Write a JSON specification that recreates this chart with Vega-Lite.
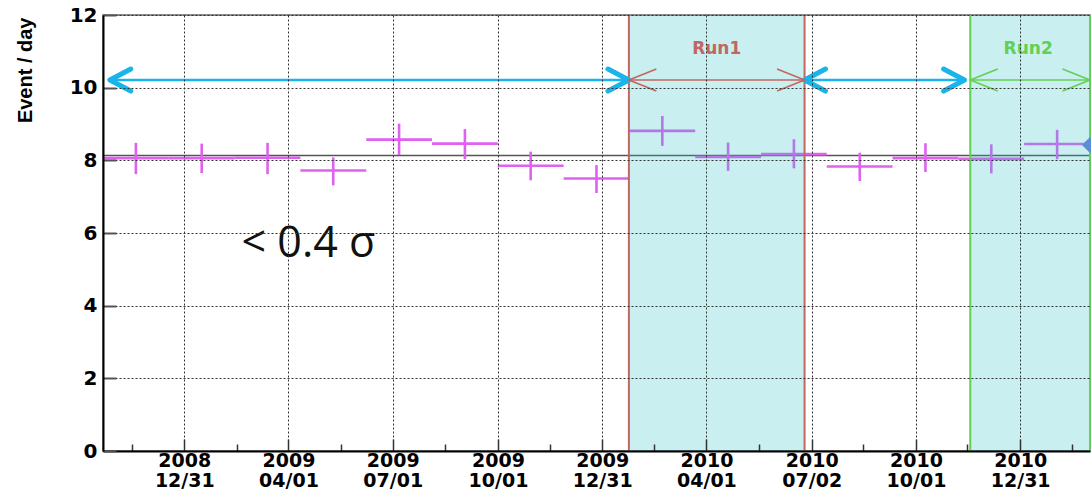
{
  "$schema": "https://vega.github.io/schema/vega-lite/v6.json",
  "width": 987,
  "height": 436,
  "autosize": {"type": "none"},
  "padding": {"left": 103, "top": 15, "right": 1, "bottom": 42},
  "background": "white",
  "config": {"view": {"stroke": "#666", "strokeWidth": 1.5}},
  "datasets": {
    "bins": [
      {"start": "2008-10-21T00:00", "end": "2008-12-17T12:00", "mid": "2008-11-18T17:00", "rate": 8.06, "lo": 7.62, "hi": 8.48},
      {"start": "2008-12-17T12:00", "end": "2009-02-12T22:00", "mid": "2009-01-15T05:00", "rate": 8.06, "lo": 7.65, "hi": 8.46},
      {"start": "2009-02-12T22:00", "end": "2009-04-11T10:00", "mid": "2009-03-13T17:00", "rate": 8.07, "lo": 7.62, "hi": 8.48},
      {"start": "2009-04-11T10:00", "end": "2009-06-07T22:00", "mid": "2009-05-10T02:00", "rate": 7.72, "lo": 7.31, "hi": 8.08},
      {"start": "2009-06-07T22:00", "end": "2009-08-04T07:00", "mid": "2009-07-06T14:00", "rate": 8.57, "lo": 8.15, "hi": 9.01},
      {"start": "2009-08-04T07:00", "end": "2009-09-30T19:00", "mid": "2009-09-02T02:00", "rate": 8.46, "lo": 8.03, "hi": 8.86},
      {"start": "2009-09-30T19:00", "end": "2009-11-27T07:00", "mid": "2009-10-29T12:00", "rate": 7.85, "lo": 7.45, "hi": 8.24},
      {"start": "2009-11-27T07:00", "end": "2010-01-23T17:00", "mid": "2009-12-26T00:00", "rate": 7.50, "lo": 7.10, "hi": 7.87},
      {"start": "2010-01-23T17:00", "end": "2010-03-22T05:00", "mid": "2010-02-21T12:00", "rate": 8.81, "lo": 8.40, "hi": 9.22},
      {"start": "2010-03-22T05:00", "end": "2010-05-18T17:00", "mid": "2010-04-19T22:00", "rate": 8.09, "lo": 7.71, "hi": 8.49},
      {"start": "2010-05-18T17:00", "end": "2010-07-15T02:00", "mid": "2010-06-16T10:00", "rate": 8.17, "lo": 7.78, "hi": 8.58},
      {"start": "2010-07-15T02:00", "end": "2010-09-10T14:00", "mid": "2010-08-12T22:00", "rate": 7.83, "lo": 7.43, "hi": 8.21},
      {"start": "2010-09-10T14:00", "end": "2010-11-07T02:00", "mid": "2010-10-09T07:00", "rate": 8.06, "lo": 7.68, "hi": 8.47},
      {"start": "2010-11-07T02:00", "end": "2011-01-03T12:00", "mid": "2010-12-05T19:00", "rate": 8.04, "lo": 7.64, "hi": 8.44},
      {"start": "2011-01-03T12:00", "end": "2011-03-02T00:00", "mid": "2011-02-01T07:00", "rate": 8.45, "lo": 8.03, "hi": 8.84}
    ],
    "ref": [{"v": 8.13}],
    "runs": [
      {"kind": "Run1", "start": "2010-01-23T07:00", "end": "2010-06-25T17:00"},
      {"kind": "Run2", "start": "2010-11-17T10:00", "end": "2011-03-02T00:00"}
    ],
    "arrows": [
      {"kind": "Off", "from": "2008-10-27T00:00", "to": "2010-01-23T07:00", "level": 10.21},
      {"kind": "Run1", "from": "2010-01-23T07:00", "to": "2010-06-25T17:00", "level": 10.21},
      {"kind": "Off", "from": "2010-06-25T17:00", "to": "2010-11-12T10:00", "level": 10.21},
      {"kind": "Run2", "from": "2010-11-17T10:00", "to": "2011-03-02T00:00", "level": 10.21}
    ],
    "labels": [
      {"kind": "Run1", "t": "2010-04-10T00:00", "v": 11.07, "text": "Run1"},
      {"kind": "Run2", "t": "2011-01-07T00:00", "v": 11.07, "text": "Run2"}
    ],
    "note": [{"t": "2009-02-19T00:00", "v": 5.70, "text": "< 0.4 σ"}],
    "marker": [{"t": "2011-03-02T00:00", "v": 8.42}]
  },
  "layer": [
    {
      "data": {"name": "ref"},
      "mark": {"type": "rule", "color": "#555", "strokeWidth": 1.5},
      "encoding": {
        "y": {
          "field": "v", "type": "quantitative",
          "scale": {"domain": [0, 12], "nice": false, "zero": false},
          "axis": {
            "title": "Event / day",
            "titleFont": "Liberation Sans", "titleFontWeight": "bold", "titleFontSize": 20,
            "titleColor": "#000", "titleAngle": 270, "titleAlign": "right", "titleBaseline": "alphabetic",
            "titleX": -72, "titleY": 2,
            "values": [0, 0.5, 1, 1.5, 2, 2.5, 3, 3.5, 4, 4.5, 5, 5.5, 6, 6.5, 7, 7.5, 8, 8.5, 9, 9.5, 10, 10.5, 11, 11.5, 12],
            "labelExpr": "datum.value % 2 === 0 ? datum.label : ''",
            "labelFont": "DejaVu Sans", "labelFontWeight": "bold", "labelFontSize": 20, "labelColor": "#000",
            "labelPadding": 19, "labelOverlap": false, "labelFlush": false,
            "ticks": true, "tickSize": -13, "tickColor": "#555", "tickWidth": 2,
            "domainColor": "#000", "domainWidth": 2,
            "grid": true, "gridColor": "#333", "gridDash": [2, 2], "gridWidth": 1,
            "gridOpacity": {"condition": {"test": "datum.value % 2 !== 0", "value": 0}, "value": 1},
            "zindex": 1
          }
        }
      }
    },
    {
      "data": {"name": "bins"},
      "mark": {"type": "rule", "color": "#e060f0", "strokeWidth": 2.6},
      "encoding": {
        "x": {
          "field": "start", "type": "temporal",
          "scale": {"domain": [{"year": 2008, "month": 10, "date": 21}, {"year": 2011, "month": 3, "date": 2}], "nice": false},
          "axis": {
            "title": null,
            "values": [
              {"year": 2008, "month": 11, "date": 15},
              {"year": 2008, "month": 12, "date": 31},
              {"year": 2009, "month": 2, "date": 15},
              {"year": 2009, "month": 4, "date": 1},
              {"year": 2009, "month": 5, "date": 17},
              {"year": 2009, "month": 7, "date": 1},
              {"year": 2009, "month": 8, "date": 16},
              {"year": 2009, "month": 10, "date": 1},
              {"year": 2009, "month": 11, "date": 15},
              {"year": 2009, "month": 12, "date": 31},
              {"year": 2010, "month": 2, "date": 14},
              {"year": 2010, "month": 4, "date": 1},
              {"year": 2010, "month": 5, "date": 17},
              {"year": 2010, "month": 7, "date": 2},
              {"year": 2010, "month": 8, "date": 16},
              {"year": 2010, "month": 10, "date": 1},
              {"year": 2010, "month": 11, "date": 15},
              {"year": 2010, "month": 12, "date": 31},
              {"year": 2011, "month": 2, "date": 14}
            ],
            "labelExpr": "(date(datum.value) >= 10 && date(datum.value) <= 20) ? '' : [timeFormat(datum.value, '%Y'), timeFormat(datum.value, '%m/%d')]",
            "labelFont": "DejaVu Sans", "labelFontWeight": "bold", "labelFontSize": 19, "labelColor": "#000",
            "labelLineHeight": 20, "labelBaseline": "top", "labelPadding": 12,
            "labelOverlap": false, "labelFlush": false, "labelAngle": 0,
            "tickSize": {"condition": {"test": "date(datum.value) >= 10 && date(datum.value) <= 20", "value": -7}, "value": -12},
            "tickColor": "#333", "tickWidth": 1.5,
            "domainColor": "#000", "domainWidth": 2,
            "grid": true, "gridColor": "#333", "gridDash": [2, 2], "gridWidth": 1,
            "gridOpacity": {"condition": {"test": "date(datum.value) >= 10 && date(datum.value) <= 20", "value": 0}, "value": 1},
            "zindex": 1
          }
        },
        "x2": {"field": "end"},
        "y": {"field": "rate", "type": "quantitative"}
      }
    },
    {
      "data": {"name": "bins"},
      "mark": {"type": "rule", "color": "#e060f0", "strokeWidth": 2.6},
      "encoding": {
        "x": {"field": "mid", "type": "temporal"},
        "y": {"field": "lo", "type": "quantitative"},
        "y2": {"field": "hi"}
      }
    },
    {
      "data": {"name": "runs"},
      "mark": {"type": "rect", "color": "#28bec8", "opacity": 0.25},
      "encoding": {
        "x": {"field": "start", "type": "temporal"},
        "x2": {"field": "end"}
      }
    },
    {
      "data": {"name": "runs"},
      "mark": {"type": "rule", "strokeWidth": 2},
      "encoding": {
        "x": {"field": "start", "type": "temporal"},
        "color": {"field": "kind", "type": "nominal", "scale": {"domain": ["Run1", "Run2"], "range": ["#c2675f", "#62d052"]}, "legend": null}
      }
    },
    {
      "data": {"name": "runs"},
      "mark": {"type": "rule", "strokeWidth": 2},
      "encoding": {
        "x": {"field": "end", "type": "temporal"},
        "color": {"field": "kind", "type": "nominal", "scale": {"domain": ["Run1", "Run2"], "range": ["#c2675f", "#62d052"]}, "legend": null}
      }
    },
    {
      "data": {"name": "arrows"},
      "transform": [{"filter": "datum.kind === 'Off'"}],
      "mark": {"type": "rule", "color": "#19b4ea", "strokeWidth": 2.6},
      "encoding": {
        "x": {"field": "from", "type": "temporal"},
        "x2": {"field": "to"},
        "y": {"field": "level", "type": "quantitative"}
      }
    },
    {
      "data": {"name": "arrows"},
      "transform": [{"filter": "datum.kind === 'Off'"}],
      "mark": {"type": "point", "shape": "M1.9,-1L0,0L1.9,1", "filled": false, "color": "#19b4ea", "strokeWidth": 5, "strokeCap": "round", "strokeJoin": "round", "size": 484, "opacity": 1},
      "encoding": {
        "x": {"field": "from", "type": "temporal"},
        "y": {"field": "level", "type": "quantitative"}
      }
    },
    {
      "data": {"name": "arrows"},
      "transform": [{"filter": "datum.kind === 'Off'"}],
      "mark": {"type": "point", "shape": "M-1.9,-1L0,0L-1.9,1", "filled": false, "color": "#19b4ea", "strokeWidth": 5, "strokeCap": "round", "strokeJoin": "round", "size": 484, "opacity": 1},
      "encoding": {
        "x": {"field": "to", "type": "temporal"},
        "y": {"field": "level", "type": "quantitative"}
      }
    },
    {
      "data": {"name": "arrows"},
      "transform": [{"filter": "datum.kind !== 'Off'"}],
      "mark": {"type": "rule", "strokeWidth": 1.6},
      "encoding": {
        "x": {"field": "from", "type": "temporal"},
        "x2": {"field": "to"},
        "y": {"field": "level", "type": "quantitative"},
        "color": {"field": "kind", "type": "nominal", "scale": {"domain": ["Run1", "Run2"], "range": ["#c2675f", "#62d052"]}, "legend": null}
      }
    },
    {
      "data": {"name": "arrows"},
      "transform": [{"filter": "datum.kind !== 'Off'"}],
      "mark": {"type": "point", "shape": "M2.5,-1L0,0L2.5,1", "filled": false, "strokeWidth": 1.6, "size": 484, "opacity": 1},
      "encoding": {
        "x": {"field": "from", "type": "temporal"},
        "y": {"field": "level", "type": "quantitative"},
        "color": {"field": "kind", "type": "nominal", "scale": {"domain": ["Run1", "Run2"], "range": ["#c2675f", "#62d052"]}, "legend": null}
      }
    },
    {
      "data": {"name": "arrows"},
      "transform": [{"filter": "datum.kind !== 'Off'"}],
      "mark": {"type": "point", "shape": "M-2.5,-1L0,0L-2.5,1", "filled": false, "strokeWidth": 1.6, "size": 484, "opacity": 1},
      "encoding": {
        "x": {"field": "to", "type": "temporal"},
        "y": {"field": "level", "type": "quantitative"},
        "color": {"field": "kind", "type": "nominal", "scale": {"domain": ["Run1", "Run2"], "range": ["#c2675f", "#62d052"]}, "legend": null}
      }
    },
    {
      "data": {"name": "labels"},
      "mark": {"type": "text", "font": "DejaVu Sans", "fontWeight": "bold", "fontSize": 17, "align": "center", "baseline": "middle"},
      "encoding": {
        "x": {"field": "t", "type": "temporal"},
        "y": {"field": "v", "type": "quantitative"},
        "text": {"field": "text"},
        "color": {"field": "kind", "type": "nominal", "scale": {"domain": ["Run1", "Run2"], "range": ["#b65a53", "#5fd24a"]}, "legend": null}
      }
    },
    {
      "data": {"name": "note"},
      "mark": {"type": "text", "font": "Open Sans", "fontSize": 43, "align": "left", "baseline": "middle", "color": "#111"},
      "encoding": {
        "x": {"field": "t", "type": "temporal"},
        "y": {"field": "v", "type": "quantitative"},
        "text": {"field": "text"}
      }
    },
    {
      "data": {"name": "marker"},
      "mark": {"type": "point", "shape": "diamond", "filled": true, "color": "#5a8fd6", "size": 256, "opacity": 1},
      "encoding": {
        "x": {"field": "t", "type": "temporal"},
        "y": {"field": "v", "type": "quantitative"}
      }
    }
  ]
}
